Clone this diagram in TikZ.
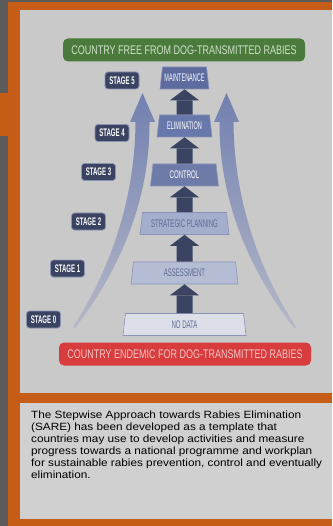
\documentclass[tikz,border=0pt]{standalone}
\usepackage{fontspec}
\setmainfont{Liberation Sans}
\newfontfamily\narrowfont[FakeStretch=0.55]{Liberation Sans}
\newfontfamily\tightfont[FakeStretch=0.5]{Liberation Sans}
\newfontfamily\bannerfont[FakeStretch=0.72]{Liberation Sans}
\newfontfamily\bodyfont[FakeStretch=1.12]{Liberation Sans}
\usetikzlibrary{shapes.geometric,arrows.meta}

\definecolor{framegray}{HTML}{5B5B5B}
\definecolor{frameorange}{HTML}{C65D17}
\definecolor{panel}{HTML}{C9C9C9}
\definecolor{textpanel}{HTML}{D0D0D0}
\definecolor{bannergreen}{HTML}{4A7B3D}
\definecolor{greentext}{HTML}{CFE0C6}
\definecolor{bannerred}{HTML}{D83C3C}
\definecolor{redtext}{HTML}{F3C4C4}
\definecolor{navy}{HTML}{3A4462}
\definecolor{tagline}{HTML}{8A93B3}
\definecolor{levelline}{HTML}{8A94B8}
\definecolor{levtext}{HTML}{5F6B94}
\definecolor{maintblue}{HTML}{5D6B9F}
\definecolor{elimblue}{HTML}{6878AB}
\definecolor{controlblue}{HTML}{6E7AA8}
\definecolor{stratblue}{HTML}{A3ADCC}
\definecolor{assessblue}{HTML}{B5BDD4}
\definecolor{nodatafill}{HTML}{DCDFE8}
\definecolor{sweeptop}{HTML}{7280B0}
\definecolor{sweepbot}{HTML}{B4B8C8}

\begin{document}
\begin{tikzpicture}[x=1pt, y=-1pt,
level/.style = {trapezium, trapezium stretches body,
	trapezium left angle=78, trapezium right angle=78,
	minimum height=22pt, inner xsep=0pt, inner ysep=2pt, draw=levelline,
	line width=0.6pt, font=\narrowfont\fontsize{11}{11}\selectfont},
stagetag/.style = {rectangle, rounded corners=3pt, fill=navy, draw=tagline,
	line width=0.8pt, text=white, minimum width=34pt, minimum height=17pt,
	inner sep=1pt, font=\narrowfont\bfseries\fontsize{11}{11}\selectfont},
banner/.style = {rectangle, rounded corners=5pt, minimum height=23pt,
	inner sep=0pt, font=\bannerfont\fontsize{12.5}{12.5}\selectfont},
climb/.style = {draw=navy, line width=16pt,
	-{Triangle[length=11pt 0 0, width=29pt 0 0, line width=0pt 0 0]}}]
\useasboundingbox (0,0) rectangle (332,526);

% frame and panels
\fill[framegray] (0,0) rectangle (332,526);
\fill[frameorange] (8,2) rectangle (332,526);
\fill[frameorange] (0,93) rectangle (8,136);
\fill[panel] (19.5,10) rectangle (332,393);
\fill[textpanel] (19.5,403) rectangle (332,519);

% the two sweeping arrows
\foreach \s/\o in {1/0, -1/369}{
\begin{scope}[xshift=\o pt, xscale=\s]
\shade[top color=sweeptop, bottom color=sweepbot]
	(73,327) .. controls (110,270) and (135,200) .. (135.5,122)
	-- (130,122) -- (142.5,93) -- (155,122) -- (149.5,122)
	.. controls (150,205) and (116,275) .. (75,328) -- cycle;
\end{scope}
}

\node[banner, fill=bannergreen, text=greentext, minimum width=242pt] (free) at (184,50) {COUNTRY FREE FROM DOG-TRANSMITTED RABIES};
\node[banner, fill=bannerred, text=redtext, minimum width=252pt] (endemic) at (185,354) {COUNTRY ENDEMIC FOR DOG-TRANSMITTED RABIES};

\node[level, fill=maintblue, text=white, minimum width=49pt, font=\tightfont\fontsize{11}{11}\selectfont] (maint) at (184.5,78) {MAINTENANCE};
\node[level, fill=elimblue, text=white, minimum width=55pt, font=\tightfont\fontsize{11}{11}\selectfont] (elim) at (184.5,126) {ELIMINATION};
\node[level, fill=controlblue, text=white, minimum width=68pt] (control) at (184.5,175) {CONTROL};
\node[level, fill=stratblue, text=levtext, minimum width=89pt] (strat) at (184.5,223.5) {STRATEGIC PLANNING};
\node[level, fill=assessblue, text=levtext, minimum width=107pt] (assess) at (184.5,273) {ASSESSMENT};
\node[level, fill=nodatafill, text=levtext, minimum width=123pt] (nodata) at (184.5,324.5) {NO DATA};

\foreach \from/\to in {nodata/assess, assess/strat, strat/control, control/elim, elim/maint}
	\draw[climb] (\from.north) -- (\to.south);

\node[stagetag] (s5) at (122,80.5) {STAGE 5};
\node[stagetag] (s4) at (112,133) {STAGE 4};
\node[stagetag] (s3) at (98.5,172) {STAGE 3};
\node[stagetag] (s2) at (88.5,221.5) {STAGE 2};
\node[stagetag] (s1) at (67.5,268.5) {STAGE 1};
\node[stagetag] (s0) at (43.5,319.5) {STAGE 0};

\node[anchor=north west, align=left, inner sep=0pt,
	font=\bodyfont\fontsize{10.5}{12}\selectfont] (about) at (31,411)
	{The Stepwise Approach towards Rabies Elimination\\
	(SARE) has been developed as a template that\\
	countries may use to develop activities and measure\\
	progress towards a national programme and workplan\\
	for sustainable rabies prevention, control and eventually\\
	elimination.};
\end{tikzpicture}
\end{document}
